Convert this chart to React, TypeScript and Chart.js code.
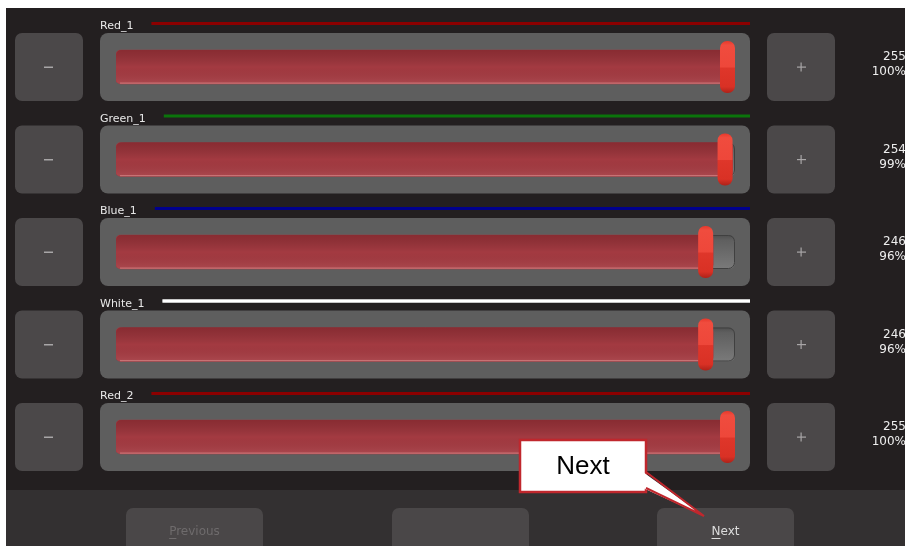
import React, { useEffect, useRef } from "react";
import { Chart, registerables } from "chart.js";

Chart.register(...registerables);

// ---- data ----
const channels = ["Red_1", "Green_1", "Blue_1", "White_1", "Red_2"];
const values = [255, 254, 246, 246, 255];
const percents = [100, 99, 96, 96, 100];
const maxValue = 255;
const lineColors = ["#8c0000", "#0b740b", "#00008c", "#ffffff", "#8c0000"];
const navButtons = ["Previous", "", "Next"];
const calloutText = "Next";

const W = 899;
const H = 538;

function rrPath(ctx: CanvasRenderingContext2D, x: number, y: number, w: number, h: number, r: number) {
  const rr = Math.min(r, w / 2, h / 2);
  ctx.beginPath();
  ctx.moveTo(x + rr, y);
  ctx.lineTo(x + w - rr, y);
  ctx.arcTo(x + w, y, x + w, y + rr, rr);
  ctx.lineTo(x + w, y + h - rr);
  ctx.arcTo(x + w, y + h, x + w - rr, y + h, rr);
  ctx.lineTo(x + rr, y + h);
  ctx.arcTo(x, y + h, x, y + h - rr, rr);
  ctx.lineTo(x, y + rr);
  ctx.arcTo(x, y, x + rr, y, rr);
  ctx.closePath();
}

function fillRR(ctx: CanvasRenderingContext2D, x: number, y: number, w: number, h: number, r: number, fill: any) {
  rrPath(ctx, x, y, w, h, r);
  ctx.fillStyle = fill;
  ctx.fill();
}

const sliderPlugin = {
  id: "sliderUi",
  beforeDatasetsDraw(chart: any) {
    const ctx: CanvasRenderingContext2D = chart.ctx;
    const xs = chart.scales.x;
    const ys = chart.scales.y;
    const x0 = xs.getPixelForValue(0);
    const x1 = xs.getPixelForValue(maxValue);
    ctx.save();
    ctx.fillStyle = "#231f20";
    ctx.fillRect(0, 0, W, H);
    ctx.fillStyle = "#333031";
    ctx.fillRect(0, 482, W, H - 482);

    channels.forEach((name, i) => {
      const cy = ys.getPixelForValue(i);
      const top = cy - 34;
      // minus / plus buttons
      fillRR(ctx, x0 - 101, top, 68, 68, 7, "#4b4849");
      fillRR(ctx, x1 + 32, top, 68, 68, 7, "#4b4849");
      ctx.fillStyle = "#a8a6a7";
      ctx.fillRect(x0 - 101 + 29, cy - 0.5, 9, 1.5);
      const px = x1 + 32 + 34;
      ctx.fillRect(px - 4, cy - 0.5, 9, 1.2);
      ctx.fillRect(px - 0.5, cy - 4.5, 1.2, 9);
      // track box
      fillRR(ctx, x0 - 16, top, x1 - x0 + 31, 68, 8, "#5e5e5e");
      // groove
      const g = ctx.createLinearGradient(0, cy - 17, 0, cy + 17);
      g.addColorStop(0, "#4f4f4f");
      g.addColorStop(0.15, "#5f5f5f");
      g.addColorStop(1, "#7a7a7a");
      fillRR(ctx, x0, cy - 17, x1 - x0, 34, 6, g);
      rrPath(ctx, x0 + 0.5, cy - 16.5, x1 - x0 - 1, 33, 6);
      ctx.strokeStyle = "#404040";
      ctx.lineWidth = 1;
      ctx.stroke();
      // label
      ctx.font = "11px 'DejaVu Sans'";
      ctx.fillStyle = "#e8e8e8";
      ctx.textAlign = "left";
      ctx.textBaseline = "alphabetic";
      ctx.fillText(name, x0 - 16, top - 4);
      const tw = ctx.measureText(name).width;
      const lx = x0 - 16 + tw + 18;
      if (lineColors[i] === "#ffffff") {
        ctx.fillStyle = "#8a8a8a";
        ctx.fillRect(lx, top - 11.5, x1 + 15 - lx, 4);
      }
      ctx.fillStyle = lineColors[i];
      ctx.fillRect(lx, top - 11, x1 + 15 - lx, 3);
      // value texts
      ctx.font = "12px 'DejaVu Sans'";
      ctx.fillStyle = "#eeeeee";
      ctx.textAlign = "right";
      ctx.textBaseline = "middle";
      ctx.fillText(String(values[i]), W + 1, cy - 10);
      ctx.fillText(percents[i] + "%", W + 1, cy + 5);
    });
    ctx.restore();
  },
  afterDatasetsDraw(chart: any) {
    const ctx: CanvasRenderingContext2D = chart.ctx;
    const meta = chart.getDatasetMeta(0);
    ctx.save();
    meta.data.forEach((el: any) => {
      const { x, y, base, height } = el.getProps(["x", "y", "base", "height"], true);
      const top = y - height / 2;
      const g = ctx.createLinearGradient(0, top, 0, top + height);
      g.addColorStop(0, "rgba(60,0,5,0.25)");
      g.addColorStop(0.5, "rgba(0,0,0,0)");
      g.addColorStop(1, "rgba(255,210,210,0.10)");
      fillRR(ctx, base, top, x - base, height, 5, g);
      ctx.fillStyle = "rgba(225,150,150,0.55)";
      ctx.fillRect(base + 4, top + height - 1.5, x - base - 8, 1.2);
      // handle
      const hx = x - 15;
      const hy = y - 26;
      const hg = ctx.createLinearGradient(0, hy, 0, hy + 52);
      hg.addColorStop(0, "#e6382b");
      hg.addColorStop(0.08, "#f04c3e");
      hg.addColorStop(0.5, "#ee473a");
      hg.addColorStop(0.52, "#df362a");
      hg.addColorStop(0.88, "#d93125");
      hg.addColorStop(1, "#ad2219");
      fillRR(ctx, hx, hy, 15, 52, 7, hg);
    });
    ctx.restore();
  },
  afterDraw(chart: any) {
    const ctx: CanvasRenderingContext2D = chart.ctx;
    ctx.save();
    // navigation buttons
    const btnX = [120, 386, 651];
    navButtons.forEach((label, i) => {
      fillRR(ctx, btnX[i], 500, 137, 50, 7, "#4a4748");
      if (!label) return;
      ctx.font = "12px 'DejaVu Sans'";
      ctx.textAlign = "center";
      ctx.textBaseline = "middle";
      ctx.fillStyle = label === "Next" ? "#dcdcdc" : "#6e6b6c";
      const cx = btnX[i] + 68.5;
      ctx.fillText(label, cx, 524);
      const w = ctx.measureText(label).width;
      const fw = ctx.measureText(label[0]).width;
      ctx.fillRect(cx - w / 2, 530, fw, 1);
    });
    // callout
    ctx.fillStyle = "#ffffff";
    ctx.fillRect(514, 432, 126, 52);
    ctx.strokeStyle = "#c0272d";
    ctx.lineWidth = 2.5;
    ctx.strokeRect(514, 432, 126, 52);
    ctx.beginPath();
    ctx.moveTo(637, 464);
    ctx.lineTo(698, 508);
    ctx.lineTo(637, 480);
    ctx.closePath();
    ctx.fillStyle = "#ffffff";
    ctx.fill();
    ctx.beginPath();
    ctx.moveTo(640, 464);
    ctx.lineTo(698, 508);
    ctx.lineTo(640, 480);
    ctx.lineWidth = 2;
    ctx.strokeStyle = "#c0272d";
    ctx.stroke();
    ctx.font = "26px 'Liberation Sans'";
    ctx.fillStyle = "#000000";
    ctx.textAlign = "center";
    ctx.textBaseline = "middle";
    ctx.fillText(calloutText, 577, 459);
    ctx.restore();
  },
};

export default function App() {
  const ref = useRef<HTMLCanvasElement | null>(null);
  useEffect(() => {
    if (!ref.current) return;
    const chart = new Chart(ref.current, {
      type: "bar",
      data: {
        labels: channels,
        datasets: [
          {
            data: values,
            backgroundColor: "#a33a41",
            barThickness: 34,
            borderRadius: 5,
            borderSkipped: false,
          },
        ],
      },
      options: {
        indexAxis: "y",
        responsive: false,
        animation: false,
        layout: { padding: { left: 110, right: 170, top: 12.75, bottom: 62.75 } },
        scales: {
          x: { display: false, min: 0, max: maxValue },
          y: { display: false },
        },
        plugins: { legend: { display: false }, tooltip: { enabled: false } },
        events: [],
      },
      plugins: [sliderPlugin],
    } as any);
    return () => chart.destroy();
  }, []);
  return (
    <div style={{ position: "absolute", left: 6, top: 8, width: W, height: H }}>
      <canvas ref={ref} width={W} height={H} style={{ display: "block" }} />
    </div>
  );
}
